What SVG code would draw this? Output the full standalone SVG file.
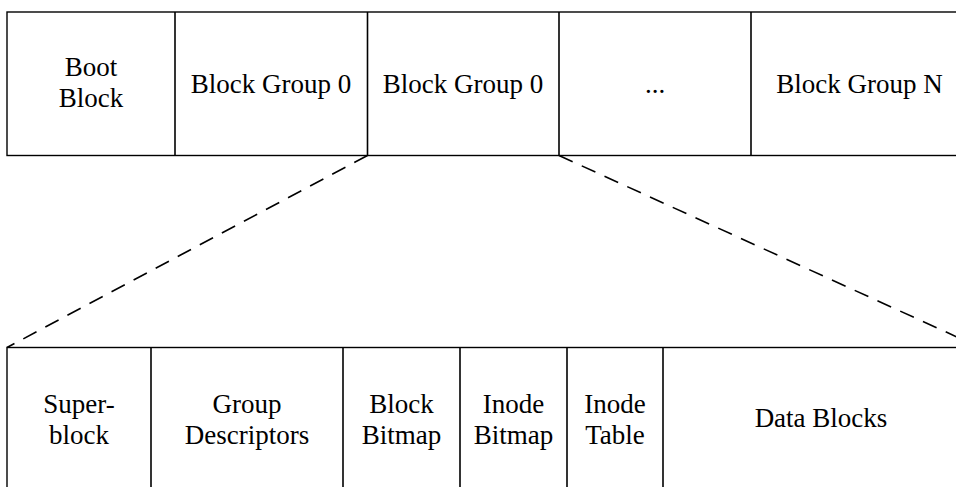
<svg xmlns="http://www.w3.org/2000/svg" width="956" height="487" viewBox="0 0 956 487">
<style>
.box{fill:#fff;stroke:#000;stroke-width:1.4}
.div{stroke:#000;stroke-width:1.6}
.t{font-family:"Liberation Serif","Times New Roman",serif;font-size:27px;fill:#000;text-anchor:middle}
.dash{stroke:#000;stroke-width:1.6;stroke-dasharray:15 10;fill:none}
</style>
<rect width="956" height="487" fill="#fff"/>
<g id="top-row">
<rect class="box" x="7" y="12" width="961" height="143.5"/>
<g id="boot-block"><text class="t" x="91" y="76">Boot</text><text class="t" x="91" y="107">Block</text></g>
<g id="block-group-0a"><line class="div" x1="175" y1="12" x2="175" y2="155.5"/><text class="t" x="271" y="92.5">Block Group 0</text></g>
<g id="block-group-0b"><line class="div" x1="367.5" y1="12" x2="367.5" y2="155.5"/><text class="t" x="463" y="92.5">Block Group 0</text></g>
<g id="ellipsis"><line class="div" x1="559" y1="12" x2="559" y2="155.5"/><text class="t" x="655" y="92.5">...</text></g>
<g id="block-group-n"><line class="div" x1="751" y1="12" x2="751" y2="155.5"/><text class="t" x="859.5" y="92.5">Block Group N</text></g>
</g>
<g id="connectors">
<line class="dash" x1="367.5" y1="155.5" x2="7" y2="347.5"/>
<line class="dash" x1="559" y1="155.5" x2="980" y2="347.5"/>
</g>
<g id="bottom-row">
<rect class="box" x="7" y="347.5" width="973" height="150"/>
<g id="superblock"><text class="t" x="79" y="413">Super-</text><text class="t" x="79" y="444">block</text></g>
<g id="group-descriptors"><line class="div" x1="151" y1="347.5" x2="151" y2="490"/><text class="t" x="247" y="413">Group</text><text class="t" x="247" y="444">Descriptors</text></g>
<g id="block-bitmap"><line class="div" x1="343" y1="347.5" x2="343" y2="490"/><text class="t" x="401.5" y="413">Block</text><text class="t" x="401.5" y="444">Bitmap</text></g>
<g id="inode-bitmap"><line class="div" x1="460" y1="347.5" x2="460" y2="490"/><text class="t" x="513.5" y="413">Inode</text><text class="t" x="513.5" y="444">Bitmap</text></g>
<g id="inode-table"><line class="div" x1="567" y1="347.5" x2="567" y2="490"/><text class="t" x="615" y="413">Inode</text><text class="t" x="615" y="444">Table</text></g>
<g id="data-blocks"><line class="div" x1="663" y1="347.5" x2="663" y2="490"/><text class="t" x="821" y="427">Data Blocks</text></g>
</g>
</svg>
